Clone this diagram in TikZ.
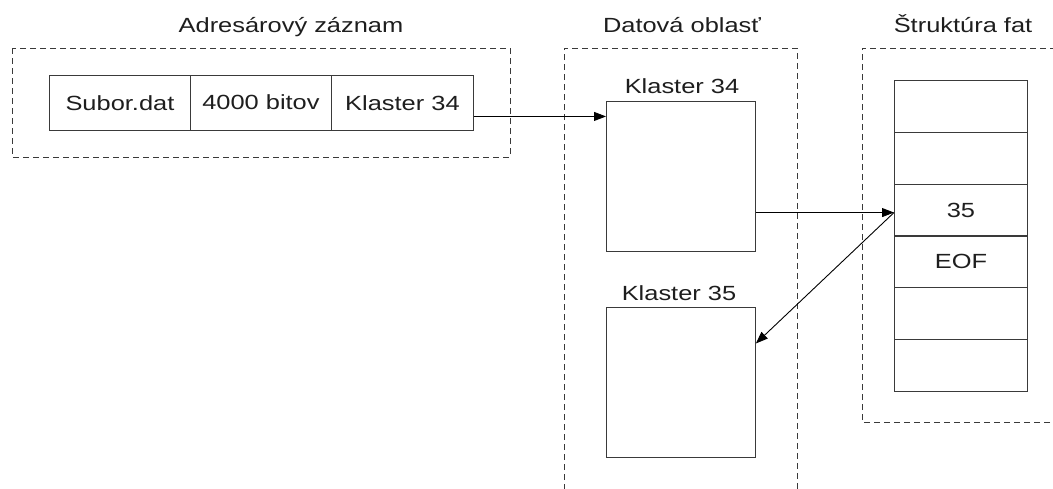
\documentclass[tikz,border=0pt]{standalone}
\usepackage{fontspec}
\setmainfont{Liberation Sans}[FakeStretch=1.24]
\usetikzlibrary{arrows.meta}
\definecolor{ink}{HTML}{1E1E1E}
\definecolor{frame}{HTML}{3A3A3A}
\begin{document}
\begin{tikzpicture}[x=1pt,y=-1pt,
  txt/.style={font=\fontsize{20.5}{24}\selectfont,text=ink,inner sep=0pt},
  group/.style={draw=frame,line width=0.9pt,dash pattern=on 6pt off 4pt},
  cell/.style={draw=frame,line width=0.9pt,minimum height=55pt,inner sep=0pt,anchor=north west,txt},
  fatrow/.style={draw=frame,line width=0.9pt,minimum width=133pt,minimum height=52pt,inner sep=0pt,anchor=north west,txt},
  cluster/.style={draw=frame,line width=0.9pt,minimum width=149pt,minimum height=150pt,inner sep=0pt,anchor=north west},
  arr/.style={draw=black,line width=0.9pt,-{Triangle[length=12pt,width=9pt]}}]
\useasboundingbox (0,0) rectangle (1053,488);
\begin{scope}
\clip (0,0) rectangle (1053,488);
% dashed group frames
\draw[group] (12,48) rectangle (510,157);
\draw[group] (564,500) -- (564,48) -- (797,48) -- (797,500);
\draw[group] (1060,422) -- (862,422) -- (862,48) -- (1060,48);
\end{scope}
% group titles
\node[txt,anchor=base] (tAddr) at (291,32) {Adresárový záznam};
\node[txt,anchor=base] (tData) at (682,32) {Datová oblasť};
\node[txt,anchor=base] (tFat) at (963,32) {Štruktúra fat};
% directory entry
\node[cell,minimum width=141pt] (c1) at (49,75) {Subor.dat};
\node[cell,minimum width=141pt] (c2) at (190,75) {\raisebox{2pt}{4000 bitov}};
\node[cell,minimum width=142pt] (c3) at (331,75) {Klaster 34};
% clusters in the data area
\node[cluster] (k34) at (606,101) {};
\node[cluster] (k35) at (606,307) {};
\node[txt,anchor=base] (l34) at (682,93) {Klaster 34};
\node[txt,anchor=base] (l35) at (679,300) {Klaster 35};
% FAT table
\node[fatrow] (r1) at (894,80) {};
\node[fatrow] (r2) at (894,131.8) {};
\node[fatrow] (r3) at (894,183.6) {35};
\node[fatrow] (r4) at (894,235.4) {EOF};
\node[fatrow] (r5) at (894,287.2) {};
\node[fatrow] (r6) at (894,339) {};
% links (yshift works in page direction: negative is downwards)
\coordinate (p1) at ([yshift=-13.5pt]c3.east);
\coordinate (p2) at ([yshift=-2.5pt]r3.west);
\coordinate (p3) at ([yshift=39pt]k35.east);
\draw[arr] (p1) -- (p1 -| k34.west);
\draw[arr] (p2 -| k34.east) -- (p2);
\draw[arr] (p2) -- (p3);
\end{tikzpicture}
\end{document}
